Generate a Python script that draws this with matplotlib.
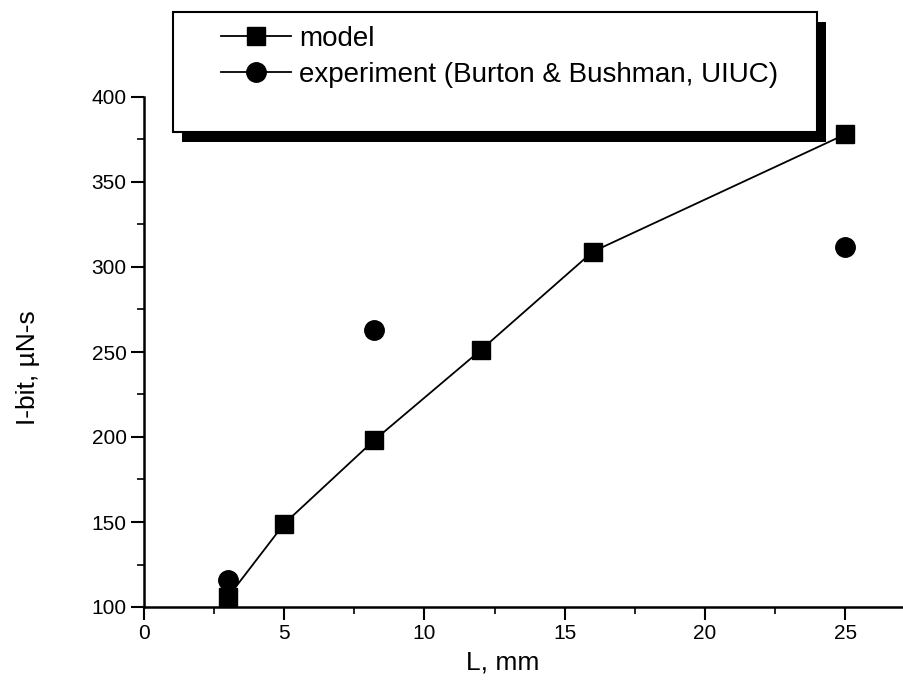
import matplotlib
matplotlib.use('Agg')
import matplotlib.pyplot as plt
from matplotlib.patches import Rectangle
from matplotlib.lines import Line2D
from matplotlib.ticker import MultipleLocator

plt.rcParams['font.family'] = ['Liberation Sans', 'DejaVu Sans']

# impulse bit vs electrode length
L_model = [3, 5, 8.2, 12, 16, 25]
ibit_model = [106, 149, 198, 251, 309, 378]

L_exp = [3, 8.2, 25]
ibit_exp = [116, 263, 312]

labels = ['model', 'experiment (Burton & Bushman, UIUC)']

W, H = 904, 695
fig = plt.figure(figsize=(W / 100, H / 100), dpi=100)
ax = fig.add_axes([144 / W, 88 / H, 760 / W, 510 / H])

ax.plot(L_model, ibit_model, color='black', lw=1.3, marker='s', ms=13,
        mec='black', mfc='black', zorder=3, clip_on=False)
ax.plot(L_exp, ibit_exp, ls='none', marker='o', ms=14,
        mec='black', mfc='black', zorder=4, clip_on=False)

ax.set_xlim(0, 27.1)
ax.set_ylim(100, 400)
ax.xaxis.set_major_locator(MultipleLocator(5))
ax.xaxis.set_minor_locator(MultipleLocator(2.5))
ax.yaxis.set_major_locator(MultipleLocator(50))
ax.yaxis.set_minor_locator(MultipleLocator(25))

for s in ('top', 'right'):
    ax.spines[s].set_visible(False)
for s in ('left', 'bottom'):
    ax.spines[s].set_linewidth(1.8)

ax.tick_params(which='major', direction='out', length=9.5, width=1.5,
               labelsize=15, pad=3)
ax.tick_params(which='minor', direction='out', length=5, width=1.2)

ax.set_xlabel('L, mm', fontsize=19)
ax.set_ylabel('I-bit, µN-s', fontsize=19)
ax.xaxis.set_label_coords(0.472, -0.085)
ax.yaxis.set_label_coords(-0.137, 0.47)

# legend frame with heavy drop shadow
bx0, by0, bx1, by1 = 173, 12, 817, 132
fig.patches.append(Rectangle(((bx0 + 9) / W, 1 - (by1 + 10) / H),
                             (bx1 - bx0) / W, (by1 - by0) / H,
                             transform=fig.transFigure, fc='black', ec='none',
                             zorder=5))
fig.patches.append(Rectangle((bx0 / W, 1 - by1 / H),
                             (bx1 - bx0) / W, (by1 - by0) / H,
                             transform=fig.transFigure, fc='white', ec='black',
                             lw=1.5, zorder=6))

handles = [Line2D([], [], color='black', lw=1.3, marker='s', ms=13),
           Line2D([], [], color='black', lw=1.3, marker='o', ms=14)]
leg = fig.legend(handles, labels, loc='upper left',
                 bbox_to_anchor=(210 / W, 1 - 15 / H),
                 bbox_transform=fig.transFigure, frameon=False, fontsize=20,
                 handlelength=2.5, handletextpad=0.3, labelspacing=0.35,
                 borderaxespad=0)
leg.set_zorder(7)

fig.savefig('out.png', dpi=100)
